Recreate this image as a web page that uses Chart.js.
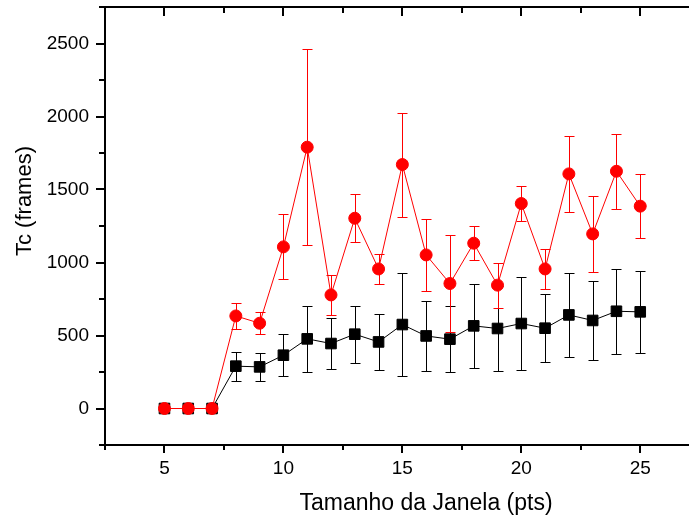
<!DOCTYPE html>
<html>
<head>
<meta charset="utf-8">
<script src="https://cdn.jsdelivr.net/npm/chart.js@4.4.0/dist/chart.umd.min.js"></script>
<style>
body { margin: 0; background: #ffffff; }
#wrap { width: 689px; height: 521px; position: relative; }
</style>
</head>
<body>
<div id="wrap"><canvas id="tcChart"></canvas></div>
<script>
const janela = [5, 6, 7, 8, 9, 10, 11, 12, 13, 14, 15, 16, 17, 18, 19, 20, 21, 22, 23, 24, 25];

const tcRed = [0, 0, 0, 634, 584, 1107, 1790, 778, 1303, 956, 1671, 1052, 856, 1132, 845, 1404, 956, 1607, 1196, 1625, 1386];
const errRed = [0, 0, 0, 92, 75, 222, 669, 138, 163, 103, 356, 245, 333, 115, 155, 121, 135, 262, 259, 257, 219];

const tcBlack = [0, 0, 0, 290, 285, 365, 477, 445, 509, 456, 575, 497, 475, 566, 548, 582, 550, 641, 603, 666, 662];
const errBlack = [0, 0, 0, 100, 98, 143, 228, 173, 194, 190, 352, 241, 226, 290, 292, 316, 232, 289, 273, 291, 283];

const xTicks = [5, 10, 15, 20, 25];
const xMinor = [2.5, 7.5, 12.5, 17.5, 22.5];
const yTicks = [0, 500, 1000, 1500, 2000, 2500];
const yMinor = [-250, 250, 750, 1250, 1750, 2250, 2750];

const xTitle = "Tamanho da Janela (pts)";
const yTitle = "Tc (frames)";

const FONT = "'Liberation Sans', Arial, sans-serif";

function toPoints(ys) {
    return janela.map(function (x, i) { return { x: x, y: ys[i] }; });
}

// error bars, drawn under each dataset's own line and markers
const errorBars = {
    id: 'errorBars',
    beforeDatasetDraw(chart, args) {
        const ds = chart.data.datasets[args.index];
        if (!ds.errors) return;
        const xs = chart.scales.x;
        const ys = chart.scales.y;
        const ctx = chart.ctx;
        ctx.save();
        ctx.strokeStyle = ds.borderColor;
        ctx.lineWidth = 1;
        ds.data.forEach(function (p, i) {
            const e = ds.errors[i];
            if (!e) return;
            const px = Math.round(xs.getPixelForValue(p.x)) + 0.5;
            const top = Math.round(ys.getPixelForValue(p.y + e)) + 0.5;
            const bot = Math.round(ys.getPixelForValue(p.y - e)) + 0.5;
            ctx.beginPath();
            ctx.moveTo(px, top); ctx.lineTo(px, bot);
            ctx.moveTo(px - 5, top); ctx.lineTo(px + 5, top);
            ctx.moveTo(px - 5, bot); ctx.lineTo(px + 5, bot);
            ctx.stroke();
        });
        ctx.restore();
    }
};

// frame, tick marks and axis titles
const frame = {
    id: 'frame',
    afterDraw(chart) {
        const ctx = chart.ctx;
        const a = chart.chartArea;
        const xs = chart.scales.x;
        const ys = chart.scales.y;
        ctx.save();
        ctx.strokeStyle = '#000';
        ctx.lineWidth = 2;
        ctx.beginPath();
        ctx.moveTo(a.left, a.top); ctx.lineTo(a.left, a.bottom);
        ctx.moveTo(a.left - 1, a.top); ctx.lineTo(chart.width, a.top);
        ctx.moveTo(a.left - 1, a.bottom); ctx.lineTo(chart.width, a.bottom);
        ctx.stroke();

        ctx.beginPath();
        xTicks.concat(xMinor).forEach(function (v) {
            const len = xTicks.indexOf(v) >= 0 ? 8 : 5;
            const px = Math.round(xs.getPixelForValue(v));
            ctx.moveTo(px, a.bottom); ctx.lineTo(px, a.bottom + len);
            ctx.moveTo(px, a.top); ctx.lineTo(px, a.top + len + 1);
        });
        yTicks.concat(yMinor).forEach(function (v) {
            const len = yTicks.indexOf(v) >= 0 ? 9 : 6;
            const py = Math.round(ys.getPixelForValue(v));
            ctx.moveTo(a.left, py); ctx.lineTo(a.left - len, py);
        });
        ctx.stroke();

        ctx.fillStyle = '#000';
        ctx.textAlign = 'center';
        ctx.textBaseline = 'alphabetic';
        ctx.font = '23px ' + FONT;
        ctx.fillText(xTitle, 426, 510);

        ctx.translate(31, 201);
        ctx.rotate(-Math.PI / 2);
        ctx.font = '22px ' + FONT;
        ctx.fillText(yTitle, 0, 0);
        ctx.restore();
    }
};

const data_tc = {
    datasets: [{
        label: 'vermelho',
        data: toPoints(tcRed),
        errors: errRed,
        borderColor: 'rgb(255, 0, 0)',
        backgroundColor: 'rgb(255, 0, 0)',
        borderWidth: 1,
        pointStyle: 'circle',
        pointRadius: 6,
        pointBorderWidth: 1,
    }, {
        label: 'preto',
        data: toPoints(tcBlack),
        errors: errBlack,
        borderColor: 'rgb(0, 0, 0)',
        backgroundColor: 'rgb(0, 0, 0)',
        borderWidth: 1,
        pointStyle: 'rect',
        pointRadius: 7.5,
        pointBorderWidth: 1,
    }]
};

const config_tc = {
    type: 'line',
    data: data_tc,
    plugins: [errorBars, frame],
    options: {
        responsive: true,
        maintainAspectRatio: false,
        animation: false,
        layout: { autoPadding: false, padding: { top: 7, left: 0, right: 0, bottom: 0 } },
        plugins: {
            legend: { display: false },
            tooltip: { enabled: false },
        },
        scales: {
            x: {
                type: 'linear',
                min: 2.5,
                max: 27.05,
                grid: { display: false, drawTicks: false },
                border: { display: false },
                afterBuildTicks: function (s) { s.ticks = xTicks.map(function (v) { return { value: v }; }); },
                afterFit: function (s) { s.height = 76; s.paddingLeft = 0; s.paddingRight = 0; },
                ticks: {
                    padding: 12,
                    color: '#000',
                    maxRotation: 0,
                    font: { family: FONT, size: 19 },
                    callback: function (v) { return String(v); },
                },
            },
            y: {
                min: -250,
                max: 2750,
                grid: { display: false, drawTicks: false },
                border: { display: false },
                afterBuildTicks: function (s) { s.ticks = yTicks.map(function (v) { return { value: v }; }); },
                afterFit: function (s) { s.width = 105; s.paddingTop = 0; s.paddingBottom = 0; },
                ticks: {
                    padding: 16,
                    color: '#000',
                    font: { family: FONT, size: 19 },
                    callback: function (v) { return String(v); },
                },
            }
        }
    }
};

var TcChart = new Chart(document.getElementById('tcChart'), config_tc);
</script>
</body>
</html>
